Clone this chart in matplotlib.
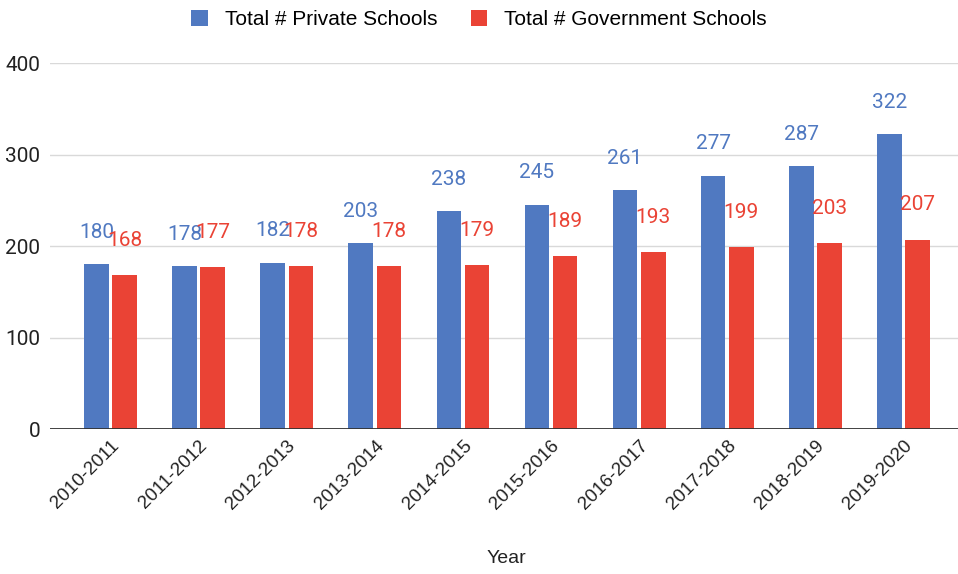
import numpy as np
import matplotlib.pyplot as plt

years = ['2010-2011', '2011-2012', '2012-2013', '2013-2014', '2014-2015',
         '2015-2016', '2016-2017', '2017-2018', '2018-2019', '2019-2020']
private = [180, 178, 182, 203, 238, 245, 261, 277, 287, 322]
government = [168, 177, 178, 178, 179, 189, 193, 199, 203, 207]

blue = '#5079c1'
red = '#ea4335'

fig = plt.figure(figsize=(9.58, 5.74), dpi=100)
ax = fig.add_axes([0.052, 0.2526, 0.948, 0.6374])

x = np.arange(len(years))
w = 0.28
ax.bar(x - 0.16, private, w, color=blue, label='Total # Private Schools', zorder=3)
ax.bar(x + 0.16, government, w, color=red, label='Total # Government Schools', zorder=3)

# data labels sit a bit above each bar
for xi, v in zip(x, private):
    ax.text(xi - 0.16, v + 35, str(v), color=blue, ha='center', va='center',
            fontsize=15, family='Roboto', zorder=4)
for xi, v in zip(x, government):
    ax.text(xi + 0.16, v + 38, str(v), color=red, ha='center', va='center',
            fontsize=15, family='Roboto', zorder=4)

ax.set_xlim(-0.69, 9.62)
ax.set_ylim(0, 400)
ax.set_yticks([0, 100, 200, 300, 400])
ax.yaxis.grid(True, color='#d9d9d9', linewidth=1, zorder=0)
ax.axhline(0, color='#333333', linewidth=1.3, zorder=5)
for s in ax.spines.values():
    s.set_visible(False)
ax.tick_params(axis='both', length=0)
ax.tick_params(axis='y', labelsize=15, pad=7)
for t in ax.get_yticklabels():
    t.set_family('Roboto')
    t.set_color('#222222')

ax.set_xticks(x)
ax.set_xticklabels(years, rotation=45, ha='right', rotation_mode='anchor',
                   fontsize=13.5, family='Liberation Sans', color='#222222')
ax.tick_params(axis='x', pad=6)
fig.text(0.529, 0.027, 'Year', ha='center', va='center', fontsize=14,
         family='Liberation Sans', color='#222222')

fig.legend(loc='center', bbox_to_anchor=(0.5, 0.966), ncol=2, frameon=False,
           prop={'family': 'Liberation Sans', 'size': 15},
           handlelength=0.8, handleheight=0.8, columnspacing=1.6, handletextpad=0.8)

fig.savefig('out.png', dpi=100)
